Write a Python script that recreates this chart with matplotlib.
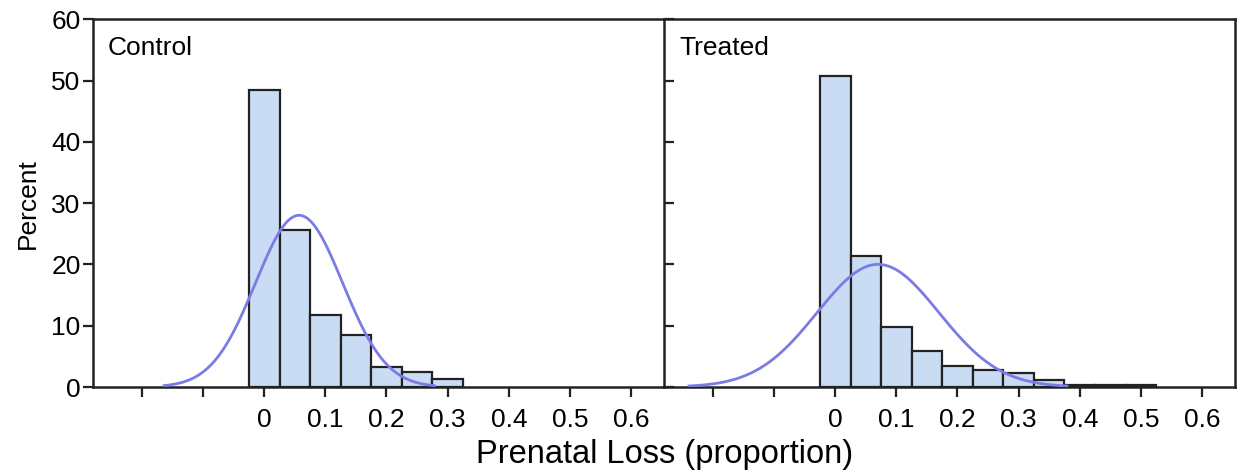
import numpy as np
import matplotlib.pyplot as plt

plt.rcParams["font.family"] = ["Liberation Sans", "DejaVu Sans"]

# histogram bin centres (bin width 0.05) and percent heights
BIN_WIDTH = 0.05
control_centers = [0.0, 0.05, 0.10, 0.15, 0.20, 0.25, 0.30]
control_pct = [48.5, 25.6, 11.8, 8.5, 3.3, 2.4, 1.3]

treated_centers = [0.0, 0.05, 0.10, 0.15, 0.20, 0.25, 0.30, 0.35, 0.40, 0.45, 0.50]
treated_pct = [50.7, 21.3, 9.8, 5.9, 3.4, 2.7, 2.3, 1.2, 0.4, 0.4, 0.4]

# fitted normal curves (mean, sd)
control_fit = (0.057, 0.0712)
treated_fit = (0.070, 0.0997)

panel_names = ["Control", "Treated"]
xticks = [-0.2, -0.1, 0, 0.1, 0.2, 0.3, 0.4, 0.5, 0.6]
xticklabels = ["", "", "0", "0.1", "0.2", "0.3", "0.4", "0.5", "0.6"]
yticks = [0, 10, 20, 30, 40, 50, 60]

BAR_COLOR = "#cadcf4"
EDGE = "#222222"
CURVE = "#7b7be6"

fig = plt.figure(figsize=(12.44, 4.74), dpi=100)
ax1 = fig.add_axes([0.0748, 0.1835, 0.459, 0.776])
ax2 = fig.add_axes([0.5338, 0.1835, 0.459, 0.776], sharey=ax1)

data = [
    (ax1, control_centers, control_pct, control_fit),
    (ax2, treated_centers, treated_pct, treated_fit),
]

for i, (ax, centers, pct, (mu, sd)) in enumerate(data):
    ax.bar(centers, pct, width=BIN_WIDTH, color=BAR_COLOR,
           edgecolor=EDGE, linewidth=1.6, zorder=2)
    xs = np.linspace(mu - 3.1 * sd, mu + 3.1 * sd, 300)
    ys = 100 * BIN_WIDTH * np.exp(-0.5 * ((xs - mu) / sd) ** 2) / (sd * np.sqrt(2 * np.pi))
    ax.plot(xs, ys, color=CURVE, linewidth=2, zorder=3)

    ax.set_xlim(-0.28, 0.654)
    ax.set_ylim(0, 60)
    ax.set_xticks(xticks)
    ax.set_xticklabels(xticklabels)
    ax.set_yticks(yticks)
    for s in ax.spines.values():
        s.set_linewidth(1.8)
        s.set_color(EDGE)
    ax.tick_params(axis="x", direction="out", length=7, width=1.6,
                   labelsize=19, colors=EDGE, labelcolor="black", pad=8)
    ax.text(0.026, 0.955, panel_names[i], transform=ax.transAxes,
            fontsize=19, va="top", ha="left")

ax1.tick_params(axis="y", direction="out", length=7, width=1.6,
                labelsize=19, colors=EDGE, labelcolor="black", pad=2)
ax2.tick_params(axis="y", direction="in", length=7, width=1.6,
                labelleft=False, colors=EDGE)
ax1.spines["right"].set_visible(False)
ax2.patch.set_alpha(0)

ax1.set_ylabel("Percent", fontsize=19, labelpad=8)
fig.text(0.534, 0.008, "Prenatal Loss (proportion)", ha="center",
         va="bottom", fontsize=23.5)

fig.savefig("out.png", dpi=100)
